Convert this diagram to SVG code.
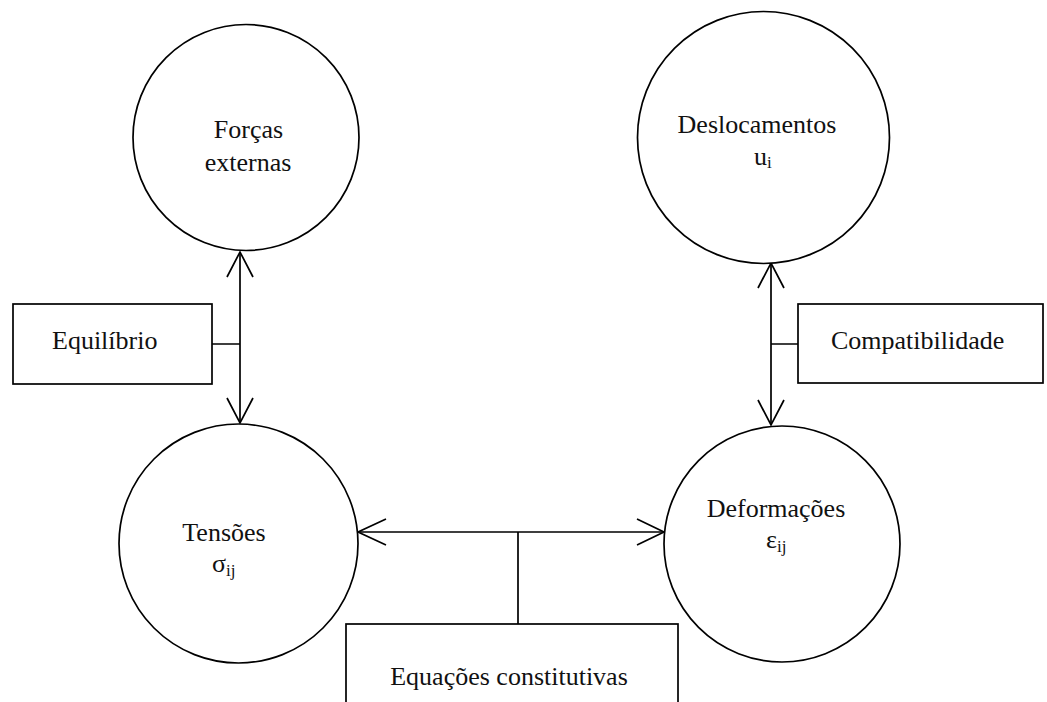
<svg xmlns="http://www.w3.org/2000/svg" width="1047" height="702" viewBox="0 0 1047 702">
<style>
.n{fill:#fff;stroke:#000;stroke-width:1.7}
.c{fill:none;stroke:#000;stroke-width:1.7}
text{font-family:"Liberation Serif","Times New Roman",serif;font-size:26px;fill:#111}
.s{font-size:17px}
</style>
<rect width="1047" height="702" fill="#fff"/>
<g id="connectors">
<path class="c" d="M240 252V423M212 344H240"/>
<path class="c" d="M227 277L240 252L253 277M227 398L240 423L253 398"/>
<path class="c" d="M771 263V425M771 344H798"/>
<path class="c" d="M758 288L771 263L784 288M758 400L771 425L784 400"/>
<path class="c" d="M358 532H664M518 532V624"/>
<path class="c" d="M386 519L358 532L386 545M637 519L664 532L637 545"/>
</g>
<g id="forcas">
<circle class="n" cx="246" cy="137.5" r="113"/>
<text x="248.5" y="138" text-anchor="middle">Forças</text>
<text x="248" y="171" text-anchor="middle">externas</text>
</g>
<g id="deslocamentos">
<circle class="n" cx="763.5" cy="137.5" r="126"/>
<text x="757" y="133" text-anchor="middle">Deslocamentos</text>
<text x="754" y="165">u<tspan class="s" dy="3">i</tspan></text>
</g>
<g id="tensoes">
<circle class="n" cx="238.5" cy="543.5" r="119.5"/>
<text x="224" y="541" text-anchor="middle">Tensões</text>
<text x="212" y="572">σ<tspan class="s" dy="4">ij</tspan></text>
</g>
<g id="deformacoes">
<circle class="n" cx="782" cy="544" r="118"/>
<text x="776" y="517" text-anchor="middle">Deformações</text>
<text x="766" y="548">ε<tspan class="s" dy="4">ij</tspan></text>
</g>
<g id="equilibrio">
<rect class="n" x="13" y="304" width="199" height="80"/>
<text x="52" y="349">Equilíbrio</text>
</g>
<g id="compatibilidade">
<rect class="n" x="798" y="304" width="245" height="79"/>
<text x="831" y="349">Compatibilidade</text>
</g>
<g id="constitutivas">
<rect class="n" x="346" y="624" width="332" height="100"/>
<text x="509" y="685" text-anchor="middle">Equações constitutivas</text>
</g>
</svg>
